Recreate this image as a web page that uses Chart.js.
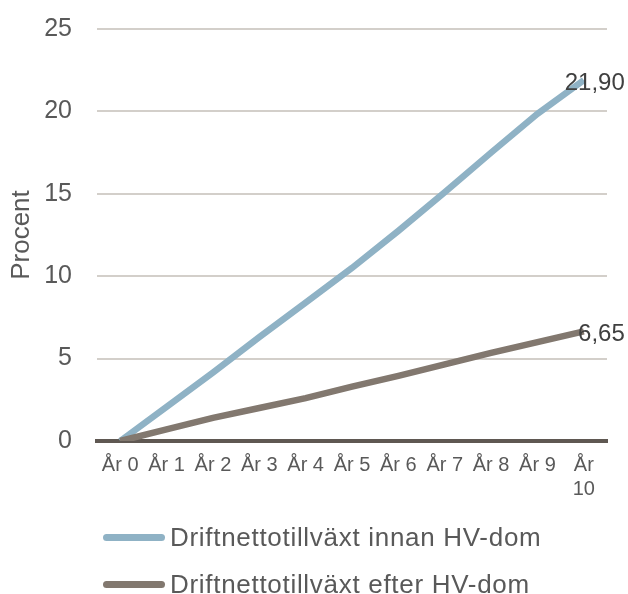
<!DOCTYPE html>
<html lang="sv">
<head>
<meta charset="utf-8">
<title>Driftnettotillväxt</title>
<script src="https://cdn.jsdelivr.net/npm/chart.js@4/dist/chart.umd.min.js"></script>
<style>
  html, body { margin: 0; padding: 0; background: #ffffff; }
  #wrap { position: relative; width: 628px; height: 594px; }
  #legend { position: absolute; left: 103px; top: 514px; font-family: "Liberation Sans", Arial, sans-serif; font-size: 26px; letter-spacing: 0.7px; color: #595959; }
  .item { display: flex; align-items: center; height: 47px; }
  .swatch { width: 62px; height: 7px; border-radius: 4px; margin-right: 5px; }
</style>
</head>
<body>
<div id="wrap">
  <canvas id="chart" width="628" height="594"></canvas>
  <div id="legend"></div>
</div>
<script>
// Years on the x axis (the last one wraps onto two lines)
const years = ['År 0', 'År 1', 'År 2', 'År 3', 'År 4', 'År 5', 'År 6', 'År 7', 'År 8', 'År 9', ['År', '10']];

// Accumulated growth in percent
const innanHV = [0, 2.07, 4.15, 6.3, 8.4, 10.5, 12.75, 15.1, 17.5, 19.85, 21.90];
const efterHV = [0, 0.7, 1.4, 2.0, 2.6, 3.3, 3.95, 4.65, 5.35, 6.0, 6.65];

const seriesNames = ['Driftnettotillväxt innan HV-dom', 'Driftnettotillväxt efter HV-dom'];
const seriesColors = ['#8fb2c5', '#82786f'];

const yTicks = [0, 5, 10, 15, 20, 25];
const yTitle = 'Procent';

const FONT = '"Liberation Sans", Arial, sans-serif';

// Writes the value of each series' last point beside it
const endLabels = {
  id: 'endLabels',
  afterDatasetsDraw(chart) {
    const ctx = chart.ctx;
    ctx.save();
    ctx.font = '24px ' + FONT;
    ctx.fillStyle = '#404040';
    ctx.textAlign = 'right';
    ctx.textBaseline = 'middle';
    chart.data.datasets.forEach((ds, i) => {
      const meta = chart.getDatasetMeta(i);
      const last = ds.data.length - 1;
      const pt = meta.data[last];
      const txt = ds.data[last].toFixed(2).replace('.', ',');
      ctx.fillText(txt, pt.x + 41, pt.y + 3);
    });
    ctx.restore();
  }
};

new Chart(document.getElementById('chart'), {
  type: 'line',
  data: {
    labels: years,
    datasets: [
      { label: seriesNames[0], data: innanHV, borderColor: seriesColors[0], backgroundColor: seriesColors[0], borderWidth: 6.5, pointRadius: 0, tension: 0, order: 1, borderCapStyle: 'butt' },
      { label: seriesNames[1], data: efterHV, borderColor: seriesColors[1], backgroundColor: seriesColors[1], borderWidth: 6.5, pointRadius: 0, tension: 0, order: 0, borderCapStyle: 'butt' }
    ]
  },
  options: {
    responsive: false,
    animation: false,
    layout: { padding: { top: 29, right: 21, left: 0, bottom: 0 } },
    plugins: { legend: { display: false }, tooltip: { enabled: false } },
    scales: {
      x: {
        offset: true,
        grid: { display: false, drawTicks: false },
        border: { display: true, color: '#5f5852', width: 4 },
        ticks: { color: '#595959', font: { family: FONT, size: 20 }, padding: 12, maxRotation: 0, autoSkip: false },
        afterFit(scale) { scale.height = 153; }
      },
      y: {
        min: 0, max: 25,
        afterBuildTicks(scale) { scale.ticks = yTicks.map(v => ({ value: v })); },
        grid: { color: '#d3cfca', lineWidth: 2, drawTicks: true, tickLength: 21, tickColor: 'rgba(0,0,0,0)' },
        border: { display: false },
        ticks: { color: '#595959', font: { family: FONT, size: 25 }, padding: 4 },
        title: { display: true, text: yTitle, color: '#595959', font: { family: FONT, size: 26 }, padding: { top: 6, bottom: 0 } },
        afterFit(scale) { scale.width = 97; }
      }
    }
  },
  plugins: [endLabels]
});

// Legend under the plot
const legend = document.getElementById('legend');
seriesNames.forEach((name, i) => {
  const row = document.createElement('div');
  row.className = 'item';
  const sw = document.createElement('span');
  sw.className = 'swatch';
  sw.style.background = seriesColors[i];
  const tx = document.createElement('span');
  tx.textContent = name;
  row.appendChild(sw);
  row.appendChild(tx);
  legend.appendChild(row);
});
</script>
</body>
</html>
